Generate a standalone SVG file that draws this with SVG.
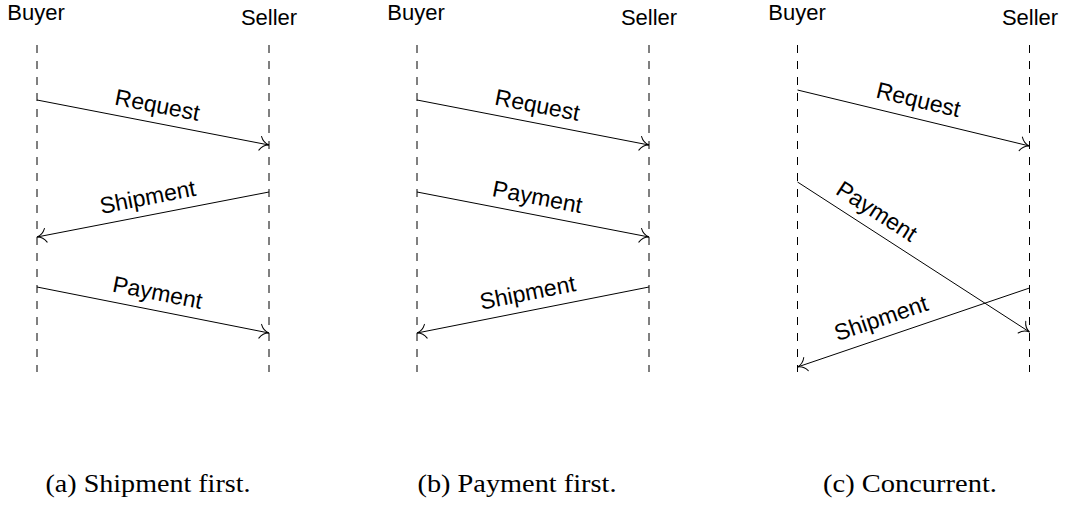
<svg xmlns="http://www.w3.org/2000/svg" width="1065" height="512" viewBox="0 0 1065 512">
<style>
.life{stroke:#000;stroke-width:1;stroke-dasharray:8 8;fill:none}
.msg{stroke:#000;stroke-width:1;fill:none;marker-end:url(#to)}
.who{font-family:"Liberation Sans",Arial,sans-serif;font-size:22px;fill:#000;text-anchor:middle}
.lbl{font-family:"Liberation Sans",Arial,sans-serif;font-size:23px;fill:#000;text-anchor:middle}
.cap{font-family:"Liberation Serif","Times New Roman",serif;font-size:25px;fill:#000;text-anchor:middle}
</style>
<defs>
<marker id="to" markerUnits="userSpaceOnUse" orient="auto" refX="0" refY="0" markerWidth="20" markerHeight="20" overflow="visible">
<path d="M -9,-7 Q -6,-1 0,0 Q -6,1 -9,7" fill="none" stroke="#000" stroke-width="1" stroke-linecap="round"/>
</marker>
</defs>
<rect width="1065" height="512" fill="#fff"/>

<g id="panel-a">
<g id="a-buyer"><text class="who" x="36" y="20">Buyer</text><line class="life" x1="37" y1="45" x2="37" y2="372"/></g>
<g id="a-seller"><text class="who" x="269" y="25">Seller</text><line class="life" x1="269" y1="45" x2="269" y2="372"/></g>
<g id="a-connectors">
<line class="msg" x1="37" y1="100" x2="269" y2="145"/>
<line class="msg" x1="269" y1="192" x2="37" y2="237"/>
<line class="msg" x1="37" y1="287" x2="269" y2="333"/>
<text class="lbl" transform="translate(154,122.5) rotate(10.98)" x="0" y="-10">Request</text>
<text class="lbl" transform="translate(151,214.5) rotate(-10.98)" x="0" y="-10">Shipment</text>
<text class="lbl" transform="translate(154,310) rotate(11.2)" x="0" y="-10">Payment</text>
</g>
<text class="cap" x="148" y="492" textLength="205" lengthAdjust="spacingAndGlyphs">(a) Shipment first.</text>
</g>

<g id="panel-b">
<g id="b-buyer"><text class="who" x="416" y="20">Buyer</text><line class="life" x1="417" y1="45" x2="417" y2="372"/></g>
<g id="b-seller"><text class="who" x="649" y="25">Seller</text><line class="life" x1="649" y1="45" x2="649" y2="372"/></g>
<g id="b-connectors">
<line class="msg" x1="417" y1="100" x2="649" y2="145"/>
<line class="msg" x1="417" y1="192" x2="649" y2="237"/>
<line class="msg" x1="649" y1="287" x2="417" y2="333"/>
<text class="lbl" transform="translate(534,122.5) rotate(10.98)" x="0" y="-10">Request</text>
<text class="lbl" transform="translate(534,214.5) rotate(10.98)" x="0" y="-10">Payment</text>
<text class="lbl" transform="translate(531,310) rotate(-11.2)" x="0" y="-10">Shipment</text>
</g>
<text class="cap" x="517" y="492" textLength="199" lengthAdjust="spacingAndGlyphs">(b) Payment first.</text>
</g>

<g id="panel-c">
<g id="c-buyer"><text class="who" x="797" y="20">Buyer</text><line class="life" x1="797.5" y1="45" x2="797.5" y2="372"/></g>
<g id="c-seller"><text class="who" x="1030" y="25">Seller</text><line class="life" x1="1029.5" y1="45" x2="1029.5" y2="372"/></g>
<g id="c-connectors">
<line class="msg" x1="797.5" y1="90" x2="1029.5" y2="146"/>
<line class="msg" x1="797.5" y1="182" x2="1029.5" y2="332"/>
<line class="msg" x1="1029.5" y1="288" x2="797.5" y2="367"/>
<text class="lbl" transform="translate(914,118) rotate(13.57)" x="0" y="-11">Request</text>
<text class="lbl" transform="translate(866.6,227) rotate(32.88)" x="0" y="-11">Payment</text>
<text class="lbl" transform="translate(887,336) rotate(-18.8)" x="0" y="-11">Shipment</text>
</g>
<text class="cap" x="910" y="492" textLength="174" lengthAdjust="spacingAndGlyphs">(c) Concurrent.</text>
</g>
</svg>
